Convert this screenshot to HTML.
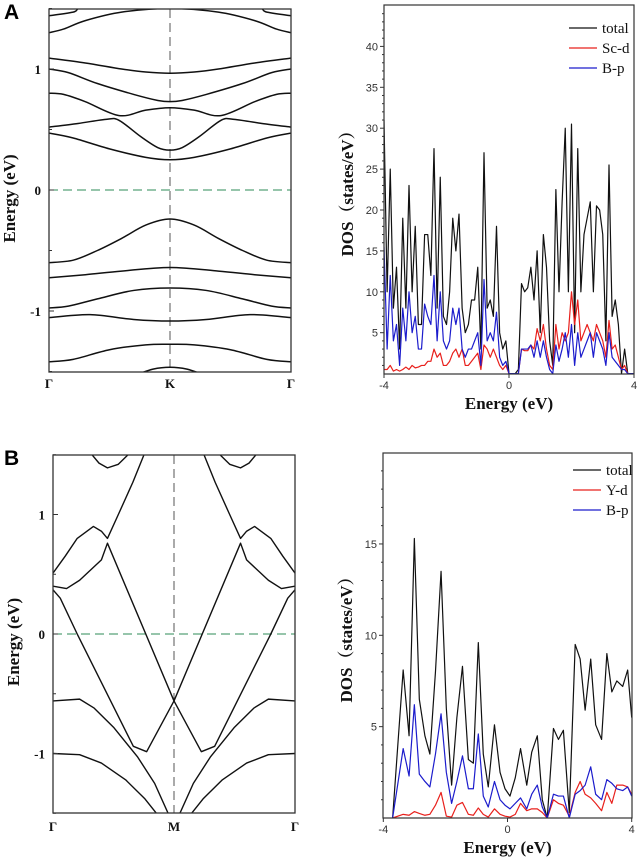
<!DOCTYPE html>
<html><head><meta charset="utf-8"><style>
html,body{margin:0;padding:0;background:#fff;}
svg{display:block;}
</style></head><body>
<svg id="fig" width="641" height="866" viewBox="0 0 641 866" xmlns="http://www.w3.org/2000/svg">
<defs>
<clipPath id="clipA"><rect x="49" y="9" width="242" height="363"/></clipPath>
<clipPath id="clipB"><rect x="53" y="455" width="242" height="358"/></clipPath>
<clipPath id="clipDA"><rect x="384" y="5" width="250" height="369"/></clipPath>
<clipPath id="clipDB"><rect x="383" y="453" width="249" height="365"/></clipPath>
</defs>
<g id="root"></g>
</svg>
<script>
// ---- Panel A bands (half path Γ->K: [k, E]) ----
const bandsA = [
 [[0,1.44],[0.1,1.47],[0.2,1.52]],
 [[0,1.30],[0.06,1.33],[0.15,1.40],[0.3,1.47],[0.5,1.5]],
 [[0,1.09],[0.15,1.05],[0.3,1.0],[0.4,0.975],[0.5,0.965]],
 [[0,1.0],[0.08,0.97],[0.2,0.88],[0.35,0.79],[0.45,0.74],[0.5,0.73]],
 [[0,0.80],[0.06,0.79],[0.15,0.73],[0.29,0.615],[0.4,0.66],[0.5,0.68]],
 [[0,0.52],[0.12,0.55],[0.24,0.585],[0.29,0.575],[0.38,0.44],[0.45,0.35],[0.5,0.33]],
 [[0,0.47],[0.1,0.43],[0.25,0.34],[0.4,0.27],[0.5,0.25]],
 [[0,-0.60],[0.1,-0.58],[0.2,-0.50],[0.3,-0.40],[0.4,-0.29],[0.5,-0.24]],
 [[0,-0.725],[0.15,-0.70],[0.3,-0.67],[0.5,-0.64]],
 [[0,-0.975],[0.08,-0.96],[0.2,-0.90],[0.35,-0.83],[0.5,-0.81]],
 [[0,-1.055],[0.17,-1.03],[0.35,-1.07],[0.5,-1.083]],
 [[0,-1.42],[0.1,-1.40],[0.25,-1.32],[0.4,-1.28],[0.5,-1.275]],
 [[0.37,-1.52],[0.43,-1.48],[0.5,-1.465]]
];
// ---- Panel B bands (half path Γ->M) ----
const bandsB = [
 [[0.153,1.52],[0.19,1.43],[0.225,1.39],[0.27,1.42],[0.32,1.52]],
 [[0,0.51],[0.05,0.65],[0.1,0.80],[0.167,0.90],[0.2,0.86],[0.225,0.80],[0.27,1.0],[0.33,1.27],[0.376,1.5]],
 [[0,0.40],[0.056,0.38],[0.11,0.45],[0.2,0.62],[0.225,0.76],[0.5,-0.56]],
 [[0,0.37],[0.03,0.30],[0.1,0],[0.332,-0.94],[0.387,-0.985],[0.5,-0.56]],
 [[0,-0.56],[0.11,-0.545],[0.17,-0.62],[0.25,-0.78],[0.35,-1.03],[0.42,-1.25],[0.48,-1.52]],
 [[0,-1.0],[0.11,-1.01],[0.2,-1.08],[0.3,-1.22],[0.38,-1.38],[0.435,-1.52]]
];
const kLabelsA = ["Γ","K","Γ"];
const kLabelsB = ["Γ","M","Γ"];
const bandTicks = [1,0,-1];
// ---- DOS A ----
const energyA = [-4,-3.9,-3.8,-3.7,-3.6,-3.5,-3.4,-3.3,-3.2,-3.1,-3,-2.9,-2.8,-2.7,-2.6,-2.5,-2.4,-2.3,-2.2,-2.1,-2,-1.9,-1.8,-1.7,-1.6,-1.5,-1.4,-1.3,-1.2,-1.1,-1,-0.9,-0.8,-0.7,-0.6,-0.5,-0.4,-0.3,-0.2,-0.1,0,0.1,0.2,0.3,0.4,0.5,0.6,0.7,0.8,0.9,1,1.1,1.2,1.3,1.4,1.5,1.6,1.7,1.8,1.9,2,2.1,2.2,2.3,2.4,2.5,2.6,2.7,2.8,2.9,3,3.1,3.2,3.3,3.4,3.5,3.6,3.7,3.8,3.9,4];
const totalA = [31,10,25,8,13,3,19,8,23,10,18,6,6,17,17,12,27.5,8,24,7,6,10,19,15,19.5,8,5,6,9,9,13,3,27,8,9,7,18,5,3,4,0,0,0,0.5,11,10,10.5,13,9,15,5,17,13,4,1,22.5,10,21,30,10,30.5,5,27.5,10,17,19,21,10,20.5,20,17,4,25.5,7,9,6,0,3,0,0,0];
const scdA = [0.5,0.5,1,0.3,0.5,0.3,0.5,0.8,0.5,1,0.7,0.8,1,1,1.5,1.5,3,2,2.5,1,1,1.5,2.5,3,2,3,1,1,1.5,2,2.5,0.5,3.5,3,2,3,2,1,0.5,1,0,0,0,0,3,2.8,2.8,3.5,3,5.5,4,6,3,1,0.5,6,3,5,4,5,10,6,9,4,5,6,5,4,6,5,4,2,6.5,3,3.5,2,0.5,1,0,0,0];
const bpA = [15.5,3,12,4,6,1,8,4,10,5,7,3,3,8.5,7,6,12,4,10,4,3,4,8,6,8,3,2,3,3,4,5,1,11.5,4,5,4,7.5,2,1,1.5,0,0,0,0,3,3,3,3.5,2,4,2,4,2,0.5,0,3.5,1.5,3,5,2,6,1,5,2,3,4,5,2,5,4,3,1,5,2,1.5,1,0.5,0.5,0,0,0];
const dosTicksA = [5,10,15,20,25,30,35,40];
// ---- DOS B ----
const energyB = [-3.7,-3.36,-3.17,-3.0,-2.84,-2.66,-2.5,-2.32,-2.14,-1.97,-1.8,-1.63,-1.45,-1.26,-1.1,-0.94,-0.78,-0.62,-0.42,-0.24,-0.08,0.08,0.25,0.42,0.62,0.78,0.96,1.12,1.28,1.48,1.64,1.8,1.99,2.18,2.34,2.5,2.68,2.84,3.03,3.2,3.36,3.52,3.71,3.87,4.0];
const totalB = [0,8.1,4.5,15.3,6.5,4.5,3.5,8,13.5,6,1.8,5.5,8.3,3.2,3.0,9.6,3.5,1.7,5.1,2.5,1.6,1.2,2.2,3.8,1.8,3.6,4.5,1.0,0,4.9,4.3,4.8,0.3,9.5,8.7,5.9,8.7,5.1,4.3,9,6.9,7.5,7.2,8.1,5.5];
const bpB = [0,3.8,2.3,6.2,2.4,2.0,1.7,3.5,5.7,2.5,0.8,2.0,3.4,1.6,1.6,4.6,1.2,0.6,2.0,1.0,0.7,0.5,0.8,1.1,0.5,1.3,1.8,0.6,0,1.3,1.2,1.2,0,1.3,1.5,1.8,2.8,1.3,1.0,2.1,1.9,1.6,1.5,1.7,1.2];
const ydB = [0,0.2,0.15,0.35,0.25,0.15,0.2,0.7,1.4,0.1,0.05,0.7,0.85,0.2,0.15,0.55,0.2,0.05,0.5,0.2,0.1,0.05,0.2,0.8,0.4,0.5,0.5,0.3,0,1.0,0.8,0.7,0.1,1.4,2.0,1.3,1.1,0.8,0.4,1.4,0.8,1.8,1.8,1.7,1.3];
const dosTicksB = [5,10,15];
const dosXTicks = [-4,0,4];

const NS="http://www.w3.org/2000/svg";
const SERIF='"Liberation Serif",serif';
const SANS='"Liberation Sans",sans-serif';
const root=document.getElementById('root');
function mk(tag,attrs,parent){const e=document.createElementNS(NS,tag);for(const k in attrs)e.setAttribute(k,attrs[k]);(parent||root).appendChild(e);return e;}
function txt(x,y,s,size,anchor,weight,parent,family){const t=mk('text',{x:x,y:y,'font-size':size,'text-anchor':anchor||'middle','font-weight':weight||'normal',fill:'#111','font-family':family||SERIF},parent);t.textContent=s;return t;}

// axis functions
const xA=k=>49+k*242, yA=E=>190-E*121;
const xB=k=>53+k*242, yB=E=>634-E*119.5;
const xDA=E=>384+(E+4)*31.25, yDA=v=>373.6-v*8.18;
const xDB=E=>383.3+(E+4)*31.05, yDB=v=>818-v*18.27;

function mirror(b){const pts=b.map(p=>[p[0],p[1]]);for(let i=b.length-1;i>=0;i--){if(b[i][0]<0.5)pts.push([1-b[i][0],b[i][1]]);}pts.sort((a,c)=>a[0]-c[0]);return pts;}
function spline(P){let d=`M${P[0][0]},${P[0][1]}`;for(let i=0;i<P.length-1;i++){const p0=P[i-1]||P[i],p1=P[i],p2=P[i+1],p3=P[i+2]||P[i+1];const c1=[p1[0]+(p2[0]-p0[0])/6,p1[1]+(p2[1]-p0[1])/6],c2=[p2[0]-(p3[0]-p1[0])/6,p2[1]-(p3[1]-p1[1])/6];d+=` C${c1[0]},${c1[1]} ${c2[0]},${c2[1]} ${p2[0]},${p2[1]}`;}return d;}

function bandPanel(name,bands,xf,yf,x0,y0,w,h,clip,labels,smooth,labelY,panelLetter,letterY){
  const g=mk('g',{});
  
  
  const L=txt(4,letterY,panelLetter,21,'start','bold',g,SANS);
  L.setAttribute('fill','#000');
  
  
  const bg=mk('g',{'clip-path':`url(#${clip})`},g);
  const f=mk('line',{x1:x0,x2:x0+w,y1:yf(0),y2:yf(0),stroke:'#2e8b57','stroke-width':1,'stroke-dasharray':'9,5'},bg);
  
  
  const v=mk('line',{x1:xf(0.5),x2:xf(0.5),y1:y0,y2:y0+h,stroke:'#555','stroke-width':1,'stroke-dasharray':'9,5'},bg);
  
  
  bands.forEach((b,i)=>{const P=mirror(b).map(p=>[xf(p[0]),yf(p[1])]);
    let el;
    if(smooth) el=mk('path',{d:spline(P),fill:'none',stroke:'#111','stroke-width':1.5},bg);
    else el=mk('polyline',{points:P.map(p=>p.join(',')).join(' '),fill:'none',stroke:'#111','stroke-width':1.4,'stroke-linejoin':'round'},bg);
    
    
  });
  const fr=mk('rect',{x:x0,y:y0,width:w,height:h,fill:'none',stroke:'#333','stroke-width':1.3},g);
  
  
  bandTicks.forEach(t=>{mk('line',{x1:x0,x2:x0+5,y1:yf(t),y2:yf(t),stroke:'#333'},g);
    const tl=txt(x0-8,yf(t)+5,String(t),13,'end','bold',g);
    
    });
  [0.5,-0.5,1.5,-1.5].forEach(t=>mk('line',{x1:x0,x2:x0+3,y1:yf(t),y2:yf(t),stroke:'#333'},g));
  labels.forEach((s,i)=>{const tl=txt(xf(i*0.5),labelY,s,13,'middle','bold',g);
    
    });
  const yt=txt(0,0,'Energy (eV)',17,'middle','bold',g);
  yt.setAttribute('transform',`translate(${x0-34},${y0+h/2+8}) rotate(-90)`);
  
  
}
bandPanel('band-structure-a',bandsA,xA,yA,49,9,242,363,'clipA',kLabelsA,true,388,'A',19);
bandPanel('band-structure-b',bandsB,xB,yB,53,455,242,358,'clipB',kLabelsB,false,831,'B',465);

function dosPanel(name,E,series,colors,names,xf,yf,x0,y0,w,h,clip,ticks,minorStep,ymax,legY,legX){
  const g=mk('g',{});
  
  
  const sg=mk('g',{'clip-path':`url(#${clip})`},g);
  series.forEach((s,i)=>{const el=mk('polyline',{points:s.map((v,j)=>xf(E[j])+','+yf(v)).join(' '),fill:'none',stroke:colors[i],'stroke-width':1.2,'stroke-linejoin':'round'},sg);
    
    });
  const fr=mk('rect',{x:x0,y:y0,width:w,height:h,fill:'none',stroke:'#333','stroke-width':1.2},g);
  
  
  for(let v=minorStep;v<ymax;v+=minorStep){mk('line',{x1:x0-(v%5===0?4:2),x2:x0,y1:yf(v),y2:yf(v),stroke:'#333'},g);}
  ticks.forEach(t=>{const tl=txt(x0-6,yf(t)+4,String(t),11,'end','normal',g,SANS);tl.setAttribute('fill','#333');
    
    });
  dosXTicks.forEach(t=>{mk('line',{x1:xf(t),x2:xf(t),y1:y0+h,y2:y0+h+4,stroke:'#333'},g);
    const tl=txt(xf(t),y0+h+15,String(t),11,'middle','normal',g,SANS);tl.setAttribute('fill','#333');
    
    });
  const xt=txt(x0+w/2,y0+h+35,'Energy (eV)',17,'middle','bold',g);
  
  
  const yt=txt(0,0,'DOS（states/eV）',17,'middle','bold',g,'"Liberation Serif","Noto Serif CJK SC",serif');
  yt.setAttribute('transform',`translate(${x0-31},${y0+h/2}) rotate(-90)`);
  
  
  names.forEach((n,i)=>{const lg=mk('g',{},g);
    
    
    mk('line',{x1:legX,x2:legX+28,y1:legY+i*20,y2:legY+i*20,stroke:colors[i],'stroke-width':1.3},lg);
    txt(legX+33,legY+i*20+5,n,15,'start','normal',lg);});
}
dosPanel('dos-a',energyA,[totalA,scdA,bpA],['#111','#e8201c','#1c1ccc'],['total','Sc-d','B-p'],xDA,yDA,384,5,250,369,'clipDA',dosTicksA,1,45,28,569);
dosPanel('dos-b',energyB,[totalB,ydB,bpB],['#111','#e8201c','#1c1ccc'],['total','Y-d','B-p'],xDB,yDB,383,453,249,365,'clipDB',dosTicksB,1,20,470,573);
</script>
</body></html>
